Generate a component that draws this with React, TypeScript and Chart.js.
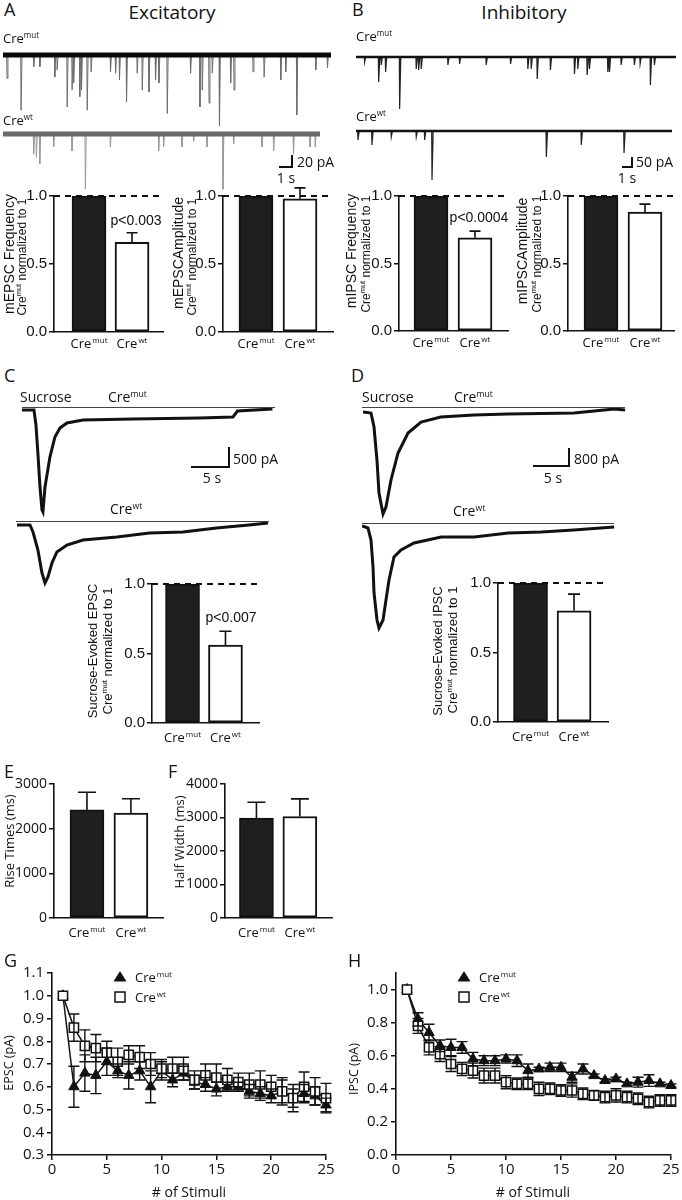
import React, { useEffect, useRef } from 'react';
import { Chart, registerables } from 'chart.js';

Chart.register(...registerables);

const SANS = '"Open Sans", "DejaVu Sans", sans-serif';
const ARIAL = '"Liberation Sans", Arial, sans-serif';
const INK = '#111111';
Chart.defaults.font.family = SANS;
Chart.defaults.color = INK;

// ---------------- DATA ----------------
const GROUP_SUPS = ['mut', 'wt'];
const BAR_POS = [1, 2];
const BAR_FILLS = ['#1f1f1f', '#ffffff'];

const MEPSC_FREQ = [1.0, 0.66];
const MEPSC_FREQ_ERR = [0, 0.07];
const MEPSC_AMP = [1.0, 0.98];
const MEPSC_AMP_ERR = [0, 0.08];
const MIPSC_FREQ = [1.0, 0.69];
const MIPSC_FREQ_ERR = [0, 0.05];
const MIPSC_AMP = [1.0, 0.88];
const MIPSC_AMP_ERR = [0, 0.06];
const SUC_EPSC = [1.0, 0.56];
const SUC_EPSC_ERR = [0, 0.1];
const SUC_IPSC = [1.0, 0.8];
const SUC_IPSC_ERR = [0, 0.12];
const RISE_TIMES = [2420, 2350];
const RISE_TIMES_ERR = [395, 320];
const HALF_WIDTH = [2980, 3030];
const HALF_WIDTH_ERR = [475, 525];

const NORM_TICKS = [0, 0.5, 1.0];
const RISE_TICKS = [0, 1000, 2000, 3000];
const HALF_TICKS = [0, 1000, 2000, 3000, 4000];

const STIMULI = [1, 2, 3, 4, 5, 6, 7, 8, 9, 10, 11, 12, 13, 14, 15, 16, 17, 18, 19, 20, 21, 22, 23, 24, 25];
const STIM_TICKS = [0, 5, 10, 15, 20, 25];
const G_Y_TICKS = [0.3, 0.4, 0.5, 0.6, 0.7, 0.8, 0.9, 1.0, 1.1];
const H_Y_TICKS = [0, 0.2, 0.4, 0.6, 0.8, 1.0];

const G_MUT = [1.0, 0.6, 0.66, 0.65, 0.71, 0.67, 0.65, 0.67, 0.6, 0.67, 0.63, 0.66, 0.62, 0.61, 0.59, 0.6, 0.6, 0.58, 0.57, 0.56, 0.58, 0.55, 0.57, 0.56, 0.52];
const G_MUT_ERR = [0, 0.09, 0.08, 0.08, 0.06, 0.03, 0.06, 0.04, 0.07, 0.04, 0.03, 0.03, 0.03, 0.03, 0.03, 0.02, 0.02, 0.03, 0.03, 0.03, 0.06, 0.04, 0.04, 0.04, 0.03];
const G_WT = [1.0, 0.86, 0.78, 0.77, 0.75, 0.71, 0.74, 0.73, 0.7, 0.68, 0.68, 0.68, 0.63, 0.65, 0.64, 0.63, 0.62, 0.61, 0.61, 0.6, 0.58, 0.55, 0.6, 0.58, 0.55];
const G_WT_ERR = [0, 0.06, 0.07, 0.06, 0.05, 0.06, 0.04, 0.05, 0.05, 0.04, 0.05, 0.05, 0.04, 0.05, 0.06, 0.05, 0.04, 0.05, 0.06, 0.05, 0.05, 0.06, 0.065, 0.06, 0.065];

const H_MUT = [1.0, 0.82, 0.74, 0.66, 0.65, 0.65, 0.58, 0.57, 0.57, 0.58, 0.57, 0.51, 0.52, 0.53, 0.53, 0.47, 0.52, 0.48, 0.45, 0.46, 0.43, 0.44, 0.45, 0.43, 0.42];
const H_MUT_ERR = [0, 0.04, 0.05, 0.035, 0.05, 0.035, 0.04, 0.03, 0.03, 0.025, 0.035, 0.04, 0.01, 0.025, 0.025, 0.03, 0.03, 0.01, 0.01, 0.01, 0.01, 0.03, 0.035, 0.01, 0.01];
const H_WT = [1.0, 0.78, 0.65, 0.61, 0.55, 0.52, 0.51, 0.48, 0.48, 0.44, 0.43, 0.43, 0.4, 0.4, 0.39, 0.39, 0.37, 0.36, 0.35, 0.36, 0.35, 0.34, 0.32, 0.33, 0.33];
const H_WT_ERR = [0, 0.045, 0.045, 0.045, 0.045, 0.04, 0.045, 0.045, 0.045, 0.04, 0.035, 0.035, 0.04, 0.035, 0.035, 0.04, 0.035, 0.03, 0.035, 0.04, 0.035, 0.035, 0.035, 0.035, 0.035];

// miniature currents: event times (s) and amplitudes (pA)
const A_MUT_T = [0.28, 1.36, 2.33, 2.8, 3.95, 4.13, 4.9, 5.28, 5.41, 5.87, 6.0, 6.44, 6.74, 8.23, 8.62, 8.92, 9.46, 10.28, 10.67, 11.18, 11.69, 11.95, 12.59, 14.38, 15.1, 15.28, 15.8, 16.05, 16.6, 17.46, 17.72, 19.18, 20.03, 21.31, 21.69, 22.54, 24.0, 24.9];
const A_MUT_AMP = [36, 85, 18, 18, 34, 23, 80, 54, 43, 64, 54, 85, 26, 26, 28, 38, 72, 28, 54, 57, 38, 43, 90, 28, 80, 54, 74, 28, 109, 43, 54, 26, 34, 38, 26, 92, 23, 20];
const A_MUT_END = 25.2;
const A_WT_T = [2.33, 2.54, 2.8, 3.87, 5.28, 6.31, 8.23, 11.95, 12.33, 13.74, 14.64, 15.67, 16.9, 17.72, 19.9, 20.8, 22.33, 23.6, 24.0];
const A_WT_AMP = [31, 36, 46, 20, 26, 85, 20, 26, 20, 20, 11, 20, 85, 15, 20, 26, 31, 20, 20];
const A_WT_END = 24.4;
const B_MUT_T = [0.79, 2.13, 2.38, 2.79, 4.13, 5.71, 5.94, 6.19, 8.73, 9.84, 12.38, 14.7, 16.35, 16.67, 17.24, 18.5, 20.79, 21.11, 22.0, 22.22, 23.97, 24.13, 25.24, 26.5, 27.05, 28.03, 28.41];
const B_MUT_AMP = [25, 125, 40, 75, 260, 60, 65, 60, 40, 35, 40, 35, 60, 60, 110, 65, 85, 60, 90, 60, 75, 75, 40, 40, 35, 140, 40];
const B_MUT_END = 30.5;
const B_WT_T = [0.16, 1.49, 3.33, 5.71, 6.51, 7.21, 18.1, 21.43, 25.5];
const B_WT_AMP = [45, 70, 30, 30, 45, 245, 130, 70, 110];
const B_WT_END = 30.1;

// sucrose responses: time (s), current (pA)
const C_MUT_T = [0, 1.58, 1.84, 2.11, 2.37, 2.63, 2.76, 3.03, 3.68, 4.34, 5.0, 5.92, 8.03, 14.6, 23.4, 27.8, 28.4, 33.0];
const C_MUT_I = [0, 0, -357, -1071, -1833, -2380, -2428, -1833, -1119, -643, -428, -309, -238, -214, -190, -167, -24, 24];
const C_WT_T = [0.13, 1.84, 2.24, 2.89, 3.42, 3.82, 4.21, 4.74, 5.39, 6.71, 8.82, 13.3, 17.6, 22.0, 26.4, 30.7, 33.2];
const C_WT_I = [-24, -24, -190, -619, -1166, -1404, -1261, -928, -666, -500, -381, -309, -214, -190, -95, -24, 24];
const D_MUT_T = [0, 1.11, 1.53, 1.94, 2.22, 2.78, 3.19, 3.89, 4.86, 6.25, 8.06, 10.8, 15.4, 20.1, 29.3, 34.9, 36.4];
const D_MUT_I = [0, -42, -632, -2021, -3410, -4294, -4000, -2863, -1726, -884, -421, -211, -126, -84, -42, 126, 84];
const D_WT_T = [0, 0.83, 1.25, 1.53, 1.67, 2.08, 2.36, 2.92, 3.33, 3.75, 4.44, 5.42, 7.22, 11.0, 15.6, 20.3, 24.9, 29.4, 35.0];
const D_WT_I = [-42, -126, -632, -1768, -2863, -4000, -4336, -4000, -3158, -2316, -1347, -1053, -758, -505, -505, -337, -295, -211, -84];

// ---------------- HELPERS ----------------
type Box = { left: number; top: number; width: number; height: number };

function drawCre(ctx: CanvasRenderingContext2D, sup: string, x: number, y: number, size: number, align: 'center' | 'left') {
  ctx.save();
  const f1 = `${size}px ${SANS}`;
  const f2 = `${Math.round(size * 0.62)}px ${SANS}`;
  ctx.font = f1;
  const w1 = ctx.measureText('Cre').width;
  ctx.font = f2;
  const w2 = ctx.measureText(sup).width;
  const start = align === 'center' ? x - (w1 + w2 + 1) / 2 : x;
  ctx.textAlign = 'left';
  ctx.textBaseline = 'alphabetic';
  ctx.fillStyle = INK;
  ctx.font = f1;
  ctx.fillText('Cre', start, y);
  ctx.font = f2;
  ctx.fillText(sup, start + w1 + 1, y - size * 0.38);
  ctx.restore();
}

function drawErrors(chart: any, o: any) {
  const ctx = chart.ctx as CanvasRenderingContext2D;
  const ys = chart.scales.y;
  ctx.save();
  ctx.strokeStyle = INK;
  ctx.lineWidth = o.errWidth || 1.5;
  chart.data.datasets.forEach((ds: any, di: number) => {
    if (!ds.errors) return;
    const meta = chart.getDatasetMeta(di);
    meta.data.forEach((el: any, i: number) => {
      const e = ds.errors[i];
      if (!e) return;
      const v = ds.data[i].y;
      const x = el.x;
      const yHi = ys.getPixelForValue(v + e);
      const yLo = o.both ? ys.getPixelForValue(v - e) : el.y;
      const c = o.cap / 2;
      ctx.beginPath();
      ctx.moveTo(x, yLo);
      ctx.lineTo(x, yHi);
      ctx.moveTo(x - c, yHi);
      ctx.lineTo(x + c, yHi);
      if (o.both) {
        ctx.moveTo(x - c, yLo);
        ctx.lineTo(x + c, yLo);
      }
      ctx.stroke();
    });
  });
  ctx.restore();
}

function drawMarker(ctx: CanvasRenderingContext2D, style: string, x: number, y: number) {
  ctx.save();
  ctx.lineWidth = 1.5;
  ctx.strokeStyle = INK;
  ctx.beginPath();
  if (style === 'triangle') {
    ctx.moveTo(x, y - 6);
    ctx.lineTo(x - 6.5, y + 4.5);
    ctx.lineTo(x + 6.5, y + 4.5);
    ctx.closePath();
    ctx.fillStyle = INK;
    ctx.fill();
  } else {
    ctx.rect(x - 5, y - 5, 10, 10);
    ctx.fillStyle = '#fff';
    ctx.fill();
    ctx.stroke();
  }
  ctx.restore();
}

const decoPlugin = {
  id: 'deco',
  beforeDatasetsDraw(chart: any, _a: any, o: any) {
    if (o.errors && o.errorsBefore) drawErrors(chart, o);
  },
  afterDatasetsDraw(chart: any, _a: any, o: any) {
    const ctx = chart.ctx as CanvasRenderingContext2D;
    const area = chart.chartArea;
    if (o.errors && !o.errorsBefore) drawErrors(chart, o);
    if (o.refLine != null) {
      const y = chart.scales.y.getPixelForValue(o.refLine);
      ctx.save();
      ctx.strokeStyle = INK;
      ctx.lineWidth = 1.8;
      ctx.setLineDash([6, 5]);
      ctx.beginPath();
      ctx.moveTo(area.left, y);
      ctx.lineTo(area.right + (o.refExtend || 0), y);
      ctx.stroke();
      ctx.restore();
    }
    if (o.cats) {
      const xs = chart.scales.x;
      for (let i = 0; i < o.cats.length; i++) {
        drawCre(ctx, o.cats[i], xs.getPixelForValue(o.catValues[i]), area.bottom + o.catOffset, 13, 'center');
      }
    }
    if (o.legend) {
      const L = o.legend;
      for (let i = 0; i < L.sups.length; i++) {
        const cx = area.left + L.dx;
        const cy = area.top + L.dy + i * L.gap;
        drawMarker(ctx, L.styles[i], cx, cy);
        drawCre(ctx, L.sups[i], cx + L.textDx, cy + 5, 13, 'left');
      }
    }
  },
};

function ChartCanvas({ box, make }: { box: Box; make: () => any }) {
  const ref = useRef<HTMLCanvasElement | null>(null);
  useEffect(() => {
    if (!ref.current) return;
    const chart = new Chart(ref.current, make());
    return () => chart.destroy();
  }, []);
  return (
    <canvas
      ref={ref}
      width={box.width}
      height={box.height}
      style={{ position: 'absolute', left: box.left, top: box.top, width: box.width, height: box.height }}
    />
  );
}

// ---------- bar charts ----------
type BarSpec = {
  l: number; t: number; r: number; b: number;
  xMin: number; xMax: number; yMax: number;
  ticks: number[]; decimals: number; tickFont: { size: number; family: string };
  values: number[]; errs: number[]; cap: number;
  ref: boolean; refExtend?: number; catOffset: number;
};
const BP = { L: 46, T: 14, R: 8, B: 30 };

function barBox(s: BarSpec): Box {
  return { left: s.l - BP.L, top: s.t - BP.T, width: s.r - s.l + BP.L + BP.R, height: s.b - s.t + BP.T + BP.B };
}

function barConfig(s: BarSpec) {
  return {
    type: 'bar',
    data: {
      datasets: [
        {
          data: BAR_POS.map((x, i) => ({ x, y: s.values[i] })),
          errors: s.errs,
          backgroundColor: BAR_FILLS,
          borderColor: INK,
          borderWidth: 2,
          borderSkipped: false,
          barThickness: 34,
        },
      ],
    },
    options: {
      animation: false,
      responsive: false,
      events: [],
      layout: { padding: { left: 0, top: BP.T, right: BP.R, bottom: 0 } },
      scales: {
        x: {
          type: 'linear', min: s.xMin, max: s.xMax, offset: false,
          ticks: { display: false },
          grid: { display: false, offset: false },
          border: { display: true, color: INK, width: 1.6 },
          afterFit: (sc: any) => { sc.height = BP.B; },
        },
        y: {
          type: 'linear', min: 0, max: s.yMax,
          afterBuildTicks: (sc: any) => { sc.ticks = s.ticks.map((v) => ({ value: v })); },
          ticks: { callback: (v: any) => Number(v).toFixed(s.decimals), font: s.tickFont, color: INK, padding: 2 },
          grid: { display: true, drawOnChartArea: false, drawTicks: true, tickLength: 5, color: INK, lineWidth: 1.5 },
          border: { display: true, color: INK, width: 1.6 },
          afterFit: (sc: any) => { sc.width = BP.L; },
        },
      },
      plugins: {
        legend: { display: false },
        tooltip: { enabled: false },
        deco: {
          errors: true, errorsBefore: false, both: false, cap: s.cap, errWidth: 1.6,
          refLine: s.ref ? 1 : null, refExtend: s.refExtend || 0,
          cats: GROUP_SUPS, catValues: BAR_POS, catOffset: s.catOffset,
        },
      },
    },
    plugins: [decoPlugin],
  };
}

const NORM_FONT = { size: 15, family: ARIAL };
const BAR_SPECS: BarSpec[] = [
  { l: 54, t: 196, r: 163, b: 332, xMin: 0.186, xMax: 2.72, yMax: 1, ticks: NORM_TICKS, decimals: 1, tickFont: NORM_FONT, values: MEPSC_FREQ, errs: MEPSC_FREQ_ERR, cap: 11, ref: true, catOffset: 16 },
  { l: 223, t: 196, r: 333, b: 332, xMin: 0.25, xMax: 2.75, yMax: 1, ticks: NORM_TICKS, decimals: 1, tickFont: NORM_FONT, values: MEPSC_AMP, errs: MEPSC_AMP_ERR, cap: 11, ref: true, catOffset: 16 },
  { l: 399, t: 196, r: 508, b: 331, xMin: 0.273, xMax: 2.75, yMax: 1, ticks: NORM_TICKS, decimals: 1, tickFont: NORM_FONT, values: MIPSC_FREQ, errs: MIPSC_FREQ_ERR, cap: 11, ref: true, catOffset: 16 },
  { l: 568, t: 196, r: 674, b: 331, xMin: 0.25, xMax: 2.66, yMax: 1, ticks: NORM_TICKS, decimals: 1, tickFont: NORM_FONT, values: MIPSC_AMP, errs: MIPSC_AMP_ERR, cap: 11, ref: true, refExtend: 4, catOffset: 16 },
  { l: 152, t: 584, r: 259, b: 723, xMin: 0.29, xMax: 2.78, yMax: 1, ticks: NORM_TICKS, decimals: 1, tickFont: NORM_FONT, values: SUC_EPSC, errs: SUC_EPSC_ERR, cap: 12, ref: true, catOffset: 19 },
  { l: 498, t: 583, r: 608, b: 722, xMin: 0.253, xMax: 2.78, yMax: 1, ticks: NORM_TICKS, decimals: 1, tickFont: NORM_FONT, values: SUC_IPSC, errs: SUC_IPSC_ERR, cap: 12, ref: true, catOffset: 19 },
  { l: 54, t: 784, r: 163, b: 918, xMin: 0.25, xMax: 2.73, yMax: 3000, ticks: RISE_TICKS, decimals: 0, tickFont: { size: 14, family: SANS }, values: RISE_TIMES, errs: RISE_TIMES_ERR, cap: 18, ref: false, catOffset: 19 },
  { l: 225, t: 784, r: 332, b: 918, xMin: 0.276, xMax: 2.74, yMax: 4000, ticks: HALF_TICKS, decimals: 0, tickFont: { size: 14, family: SANS }, values: HALF_WIDTH, errs: HALF_WIDTH_ERR, cap: 18, ref: false, catOffset: 19 },
];

// ---------- stimulus train charts ----------
type StimSpec = {
  l: number; t: number; r: number; b: number; padR: number;
  yMin: number; yMax: number; yTicks: number[];
  mut: number[]; mutErr: number[]; wt: number[]; wtErr: number[];
};
const SP = { L: 50, T: 12, B: 30 };

function stimBox(s: StimSpec): Box {
  return { left: s.l - SP.L, top: s.t - SP.T, width: s.r - s.l + SP.L + s.padR, height: s.b - s.t + SP.T + SP.B };
}

function stimConfig(s: StimSpec) {
  const axisGrid = { display: true, drawOnChartArea: false, drawTicks: true, tickLength: 5, color: INK, lineWidth: 1.5 };
  return {
    type: 'line',
    data: {
      datasets: [
        {
          data: STIMULI.map((x, i) => ({ x, y: s.wt[i] })),
          errors: s.wtErr,
          borderColor: INK, borderWidth: 1.5, tension: 0,
          pointStyle: 'rect', pointRadius: 6.5, pointBackgroundColor: '#ffffff', pointBorderColor: INK, pointBorderWidth: 1.5,
          clip: false,
        },
        {
          data: STIMULI.map((x, i) => ({ x, y: s.mut[i] })),
          errors: s.mutErr,
          borderColor: INK, borderWidth: 1.5, tension: 0,
          pointStyle: 'triangle', pointRadius: 6, pointBackgroundColor: INK, pointBorderColor: INK, pointBorderWidth: 1,
          clip: false,
        },
      ],
    },
    options: {
      animation: false,
      responsive: false,
      events: [],
      layout: { padding: { left: 0, top: SP.T, right: s.padR, bottom: 0 } },
      scales: {
        x: {
          type: 'linear', min: 0, max: 25,
          afterBuildTicks: (sc: any) => { sc.ticks = STIM_TICKS.map((v) => ({ value: v })); },
          ticks: { font: { size: 15, family: SANS }, color: INK, padding: 1, maxRotation: 0 },
          grid: axisGrid,
          border: { display: true, color: INK, width: 1.6 },
          afterFit: (sc: any) => { sc.height = SP.B; },
        },
        y: {
          type: 'linear', min: s.yMin, max: s.yMax,
          afterBuildTicks: (sc: any) => { sc.ticks = s.yTicks.map((v) => ({ value: v })); },
          ticks: { callback: (v: any) => Number(v).toFixed(1), font: { size: 15, family: SANS }, color: INK, padding: 3 },
          grid: axisGrid,
          border: { display: true, color: INK, width: 1.6 },
          afterFit: (sc: any) => { sc.width = SP.L; },
        },
      },
      plugins: {
        legend: { display: false },
        tooltip: { enabled: false },
        deco: {
          errors: true, errorsBefore: false, both: true, cap: 11, errWidth: 1.4,
          refLine: null,
          legend: { sups: GROUP_SUPS, styles: ['triangle', 'rect'], dx: 68, dy: 4, gap: 20, textDx: 15 },
        },
      },
    },
    plugins: [decoPlugin],
  };
}

const STIM_SPECS: StimSpec[] = [
  { l: 52, t: 973, r: 326, b: 1155, padR: 14, yMin: 0.3, yMax: 1.1, yTicks: G_Y_TICKS, mut: G_MUT, mutErr: G_MUT_ERR, wt: G_WT, wtErr: G_WT_ERR },
  { l: 396, t: 973, r: 671, b: 1155, padR: 10, yMin: 0, yMax: 1.1, yTicks: H_Y_TICKS, mut: H_MUT, mutErr: H_MUT_ERR, wt: H_WT, wtErr: H_WT_ERR },
];

// ---------- current traces ----------
type TraceLayout = { x0: number; base: number; pxPerS: number; pxPerPA: number; above: number; below: number; end: number };

function traceBox(t: TraceLayout): Box {
  return { left: t.x0, top: t.base - t.above, width: Math.round(t.end * t.pxPerS), height: t.above + t.below };
}

function spikeTrain(times: number[], amps: number[], end: number, decay: number) {
  const pts: { x: number; y: number }[] = [{ x: 0, y: 0 }];
  times.forEach((t, i) => {
    pts.push({ x: t, y: 0 }, { x: t + 0.03, y: -amps[i] }, { x: t + decay, y: 0 });
  });
  pts.push({ x: end, y: 0 });
  return pts;
}

function series(ts: number[], vs: number[]) {
  return ts.map((x, i) => ({ x, y: vs[i] }));
}

function traceConfig(t: TraceLayout, datasets: any[]) {
  return {
    type: 'line',
    data: { datasets: datasets.map((d) => ({ pointRadius: 0, tension: 0, clip: false, ...d })) },
    options: {
      animation: false,
      responsive: false,
      events: [],
      layout: { padding: 0 },
      scales: {
        x: { type: 'linear', display: false, min: 0, max: t.end },
        y: { type: 'linear', display: false, min: -t.below / t.pxPerPA, max: t.above / t.pxPerPA },
      },
      plugins: { legend: { display: false }, tooltip: { enabled: false } },
    },
  };
}

const A_MUT_L: TraceLayout = { x0: 3, base: 55, pxPerS: 13, pxPerPA: 13 / 20, above: 10, below: 80, end: A_MUT_END };
const A_WT_L: TraceLayout = { x0: 3, base: 134, pxPerS: 13, pxPerPA: 13 / 20, above: 10, below: 62, end: A_WT_END };
const B_MUT_L: TraceLayout = { x0: 356, base: 57, pxPerS: 10.5, pxPerPA: 10 / 50, above: 10, below: 60, end: B_MUT_END };
const B_WT_L: TraceLayout = { x0: 356, base: 131, pxPerS: 10.5, pxPerPA: 10 / 50, above: 10, below: 60, end: B_WT_END };
const C_MUT_L: TraceLayout = { x0: 22, base: 410, pxPerS: 7.6, pxPerPA: 21 / 500, above: 10, below: 110, end: 33.6 };
const C_WT_L: TraceLayout = { x0: 16, base: 524, pxPerS: 7.6, pxPerPA: 21 / 500, above: 10, below: 75, end: 33.6 };
const D_MUT_L: TraceLayout = { x0: 363, base: 412, pxPerS: 7.2, pxPerPA: 19 / 800, above: 10, below: 110, end: 36.8 };
const D_WT_L: TraceLayout = { x0: 362, base: 525, pxPerS: 7.2, pxPerPA: 19 / 800, above: 10, below: 115, end: 35.4 };

const TRACES: { lay: TraceLayout; sets: any[] }[] = [
  {
    lay: A_MUT_L,
    sets: [
      { data: [{ x: 0, y: 0 }, { x: A_MUT_END, y: 0 }], borderColor: '#0a0a0a', borderWidth: 5 },
      { data: spikeTrain(A_MUT_T, A_MUT_AMP, A_MUT_END, 0.1), borderColor: '#6e6e6e', borderWidth: 1 },
    ],
  },
  {
    lay: A_WT_L,
    sets: [
      { data: [{ x: 0, y: 0 }, { x: A_WT_END, y: 0 }], borderColor: '#6a6a6a', borderWidth: 5 },
      { data: spikeTrain(A_WT_T, A_WT_AMP, A_WT_END, 0.1), borderColor: '#9a9a9a', borderWidth: 1 },
    ],
  },
  {
    lay: B_MUT_L,
    sets: [
      { data: [{ x: 0, y: 0 }, { x: B_MUT_END, y: 0 }], borderColor: INK, borderWidth: 2.5 },
      { data: spikeTrain(B_MUT_T, B_MUT_AMP, B_MUT_END, 0.14), borderColor: '#222', borderWidth: 1.2 },
    ],
  },
  {
    lay: B_WT_L,
    sets: [
      { data: [{ x: 0, y: 0 }, { x: B_WT_END, y: 0 }], borderColor: INK, borderWidth: 2.5 },
      { data: spikeTrain(B_WT_T, B_WT_AMP, B_WT_END, 0.14), borderColor: '#222', borderWidth: 1.2 },
    ],
  },
  { lay: C_MUT_L, sets: [{ data: series(C_MUT_T, C_MUT_I), borderColor: INK, borderWidth: 3 }] },
  { lay: C_WT_L, sets: [{ data: series(C_WT_T, C_WT_I), borderColor: INK, borderWidth: 3 }] },
  { lay: D_MUT_L, sets: [{ data: series(D_MUT_T, D_MUT_I), borderColor: INK, borderWidth: 3 }] },
  { lay: D_WT_L, sets: [{ data: series(D_WT_T, D_WT_I), borderColor: INK, borderWidth: 3 }] },
];

// ---------- HTML text ----------
const Sup = ({ s }: { s: string }) => (
  <span style={{ fontSize: '0.62em', position: 'relative', top: '-0.62em' }}>{s}</span>
);
const Cre = ({ s }: { s: string }) => (
  <>
    Cre
    <Sup s={s} />
  </>
);

function Txt({ x, y, size, family = SANS, align = 'left', children }: any) {
  const W = 200;
  const H = Math.ceil(size / 2) * 2 + 2;
  const left = align === 'left' ? Math.round(x) : align === 'center' ? Math.round(x) - W / 2 : Math.round(x) - W;
  return (
    <div
      style={{
        position: 'absolute', left, top: Math.round(y) - H / 2, width: W, height: H,
        fontSize: size, fontFamily: family, lineHeight: `${H}px`, whiteSpace: 'nowrap',
        textAlign: align, color: INK,
      }}
    >
      {children}
    </div>
  );
}

function VTxt({ x, y, size, family = SANS, children }: any) {
  const W = 240;
  const H = Math.ceil(size / 2) * 2 + 2;
  return (
    <div
      style={{
        position: 'absolute', left: Math.round(x) - W / 2, top: Math.round(y) - H / 2, width: W, height: H,
        fontSize: size, fontFamily: family, lineHeight: `${H}px`, whiteSpace: 'nowrap', textAlign: 'center',
        transform: 'rotate(-90deg)', color: INK,
      }}
    >
      {children}
    </div>
  );
}

function Rule({ l, t, w, h, c = INK }: any) {
  return <div style={{ position: 'absolute', left: l, top: t, width: w, height: h, background: c }} />;
}

export default function App() {
  return (
    <div style={{ position: 'absolute', left: 0, top: 0, width: 682, height: 1200, background: '#fff', overflow: 'hidden' }}>
      {TRACES.map((tr, i) => (
        <ChartCanvas key={'tr' + i} box={traceBox(tr.lay)} make={() => traceConfig(tr.lay, tr.sets)} />
      ))}
      {BAR_SPECS.map((s, i) => (
        <ChartCanvas key={'bar' + i} box={barBox(s)} make={() => barConfig(s)} />
      ))}
      {STIM_SPECS.map((s, i) => (
        <ChartCanvas key={'stim' + i} box={stimBox(s)} make={() => stimConfig(s)} />
      ))}

      {/* panel letters and headings */}
      <Txt x={4} y={9} size={18}>A</Txt>
      <Txt x={172} y={12} size={19} align="center">Excitatory</Txt>
      <Txt x={352} y={9} size={18}>B</Txt>
      <Txt x={524} y={12} size={19} align="center">Inhibitory</Txt>
      <Txt x={4} y={375} size={18}>C</Txt>
      <Txt x={351} y={375} size={18}>D</Txt>
      <Txt x={4} y={771} size={18}>E</Txt>
      <Txt x={168} y={771} size={18}>F</Txt>
      <Txt x={4} y={960} size={18}>G</Txt>
      <Txt x={348} y={960} size={18}>H</Txt>

      {/* trace labels */}
      <Txt x={3} y={38} size={13}><Cre s="mut" /></Txt>
      <Txt x={3} y={120} size={13}><Cre s="wt" /></Txt>
      <Txt x={356} y={36} size={13}><Cre s="mut" /></Txt>
      <Txt x={356} y={116} size={13}><Cre s="wt" /></Txt>

      {/* scale bars A, B */}
      <Rule l={291} t={155} w={2} h={13} />
      <Rule l={279} t={166} w={14} h={2} />
      <Txt x={297} y={162} size={14}>20 pA</Txt>
      <Txt x={286} y={178} size={14} align="center">1 s</Txt>
      <Rule l={631} t={157} w={2} h={11} />
      <Rule l={622} t={166} w={11} h={2} />
      <Txt x={636} y={162} size={14}>50 pA</Txt>
      <Txt x={627} y={178} size={14} align="center">1 s</Txt>

      {/* bar chart titles row 1 */}
      <VTxt x={9} y={254} size={14} family={ARIAL}>mEPSC Frequency</VTxt>
      <VTxt x={22} y={257} size={12} family={ARIAL}><Cre s="mut" /> normalized to 1</VTxt>
      <VTxt x={178} y={253} size={14} family={ARIAL}>mEPSCAmplitude</VTxt>
      <VTxt x={192} y={257} size={12} family={ARIAL}><Cre s="mut" /> normalized to 1</VTxt>
      <VTxt x={351} y={251} size={14} family={ARIAL}>mIPSC Frequency</VTxt>
      <VTxt x={366} y={254} size={12} family={ARIAL}><Cre s="mut" /> normalized to 1</VTxt>
      <VTxt x={522} y={251} size={14} family={ARIAL}>mIPSCAmplitude</VTxt>
      <VTxt x={537} y={254} size={12} family={ARIAL}><Cre s="mut" /> normalized to 1</VTxt>
      <Txt x={136} y={220} size={14} family={ARIAL} align="center">p&lt;0.003</Txt>
      <Txt x={479} y={217} size={14} family={ARIAL} align="center">p&lt;0.0004</Txt>

      {/* sucrose panels */}
      <Txt x={20} y={397} size={14}>Sucrose</Txt>
      <Txt x={108} y={397} size={14}><Cre s="mut" /></Txt>
      <Txt x={110} y={509} size={14}><Cre s="wt" /></Txt>
      <Rule l={22} t={407} w={253} h={1.2} c="#444" />
      <Rule l={16} t={520.5} w={253} h={1.2} c="#444" />
      <Rule l={228} t={447} w={2} h={21} />
      <Rule l={191} t={466} w={39} h={2} />
      <Txt x={233} y={459} size={14}>500 pA</Txt>
      <Txt x={212} y={478} size={14} align="center">5 s</Txt>

      <Txt x={362} y={397} size={14}>Sucrose</Txt>
      <Txt x={454} y={397} size={14}><Cre s="mut" /></Txt>
      <Txt x={453} y={511} size={14}><Cre s="wt" /></Txt>
      <Rule l={362} t={406.5} w={263} h={1.2} c="#444" />
      <Rule l={362} t={522.5} w={252} h={1.2} c="#444" />
      <Rule l={568} t={448} w={2} h={19} />
      <Rule l={533} t={465} w={37} h={2} />
      <Txt x={574} y={459} size={14}>800 pA</Txt>
      <Txt x={553} y={478} size={14} align="center">5 s</Txt>

      <VTxt x={93} y={651} size={13} family={ARIAL}>Sucrose-Evoked EPSC</VTxt>
      <VTxt x={108} y={651} size={13} family={ARIAL}><Cre s="mut" /> normalized to 1</VTxt>
      <Txt x={231} y={617} size={14} family={ARIAL} align="center">p&lt;0.007</Txt>
      <VTxt x={438} y={651} size={13} family={ARIAL}>Sucrose-Evoked IPSC</VTxt>
      <VTxt x={453} y={650} size={13} family={ARIAL}><Cre s="mut" /> normalized to 1</VTxt>

      {/* E, F titles */}
      <VTxt x={9} y={841} size={13}>Rise Times (ms)</VTxt>
      <VTxt x={179} y={842} size={13}>Half Width (ms)</VTxt>

      {/* G, H titles */}
      <VTxt x={9} y={1063} size={12.5}>EPSC (pA)</VTxt>
      <VTxt x={354} y={1069} size={12.5}>IPSC (pA)</VTxt>
      <Txt x={189} y={1192} size={14} align="center"># of Stimuli</Txt>
      <Txt x={533} y={1192} size={14} align="center"># of Stimuli</Txt>
    </div>
  );
}
